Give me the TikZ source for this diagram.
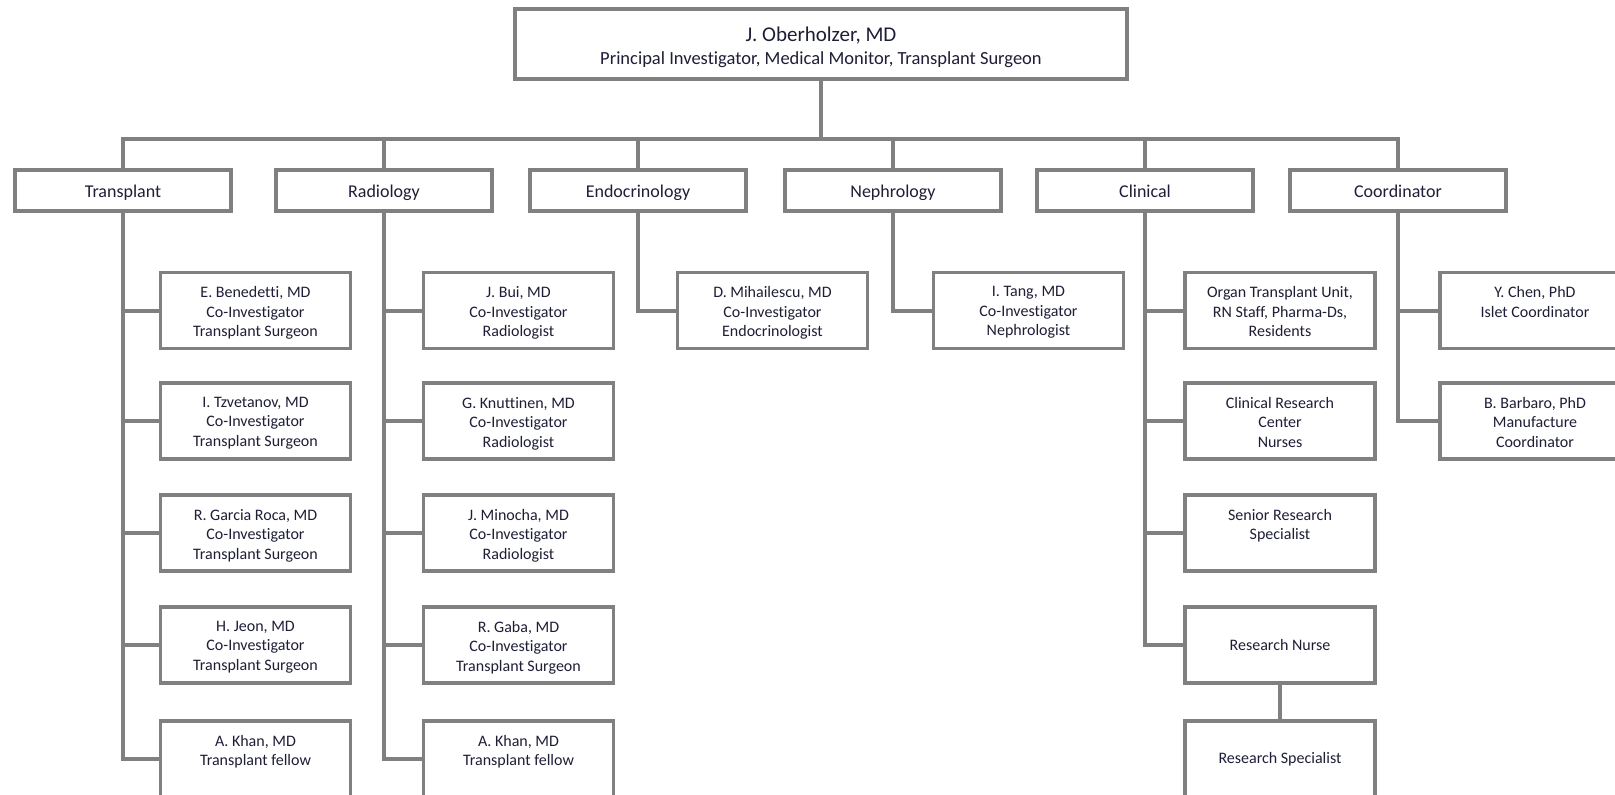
\documentclass[tikz,border=0pt]{standalone}
\usepackage{fontspec}
\setmainfont{Carlito}[Ligatures=NoCommon]
\definecolor{lnc}{RGB}{128,128,128}
\definecolor{txc}{RGB}{30,30,55}
\tikzset{
  conn/.style={draw=lnc, line width=4pt},
  bx/.style={draw=lnc, line width=3.5pt, fill=white, text=txc, inner sep=0pt,
    minimum height=76pt, minimum width=190pt, font=\fontsize{16}{19.5}\selectfont},
  dept/.style={draw=lnc, line width=3.5pt, fill=white, text=txc, inner sep=0pt,
    minimum height=41pt, minimum width=216pt, text height=13pt, text depth=0pt,
    font=\fontsize{18}{22}\selectfont},
  topbx/.style={draw=lnc, line width=3.5pt, fill=white, text=txc, inner sep=0pt,
    minimum height=70pt, minimum width=612pt,
    font=\fontsize{18.5}{22}\selectfont},
}
\newcommand{\tbx}[1]{\parbox[c][48pt][t]{185pt}{\centering #1}}
\begin{document}
\begin{tikzpicture}[x=1pt,y=-1pt]
\useasboundingbox (0,0) rectangle (1615,795);
\clip (0,0) rectangle (1615,795);
\fill[white] (0,0) rectangle (1615,795);

% top
\node[topbx] (top) at (821,44) {\raisebox{-8.5pt}[0pt][0pt]{\begin{tabular}{@{}c@{}}{\fontsize{21}{22}\selectfont J. Oberholzer, MD}\\[1pt]Principal Investigator, Medical Monitor, Transplant Surgeon\end{tabular}}};
\coordinate (bus) at (0,139);

% departments
\node[dept] (tr) at (123,190.5) {Transplant};
\node[dept] (ra) at (384,190.5) {Radiology};
\node[dept] (en) at (638,190.5) {Endocrinology};
\node[dept] (ne) at (893,190.5) {Nephrology};
\node[dept] (cl) at (1145,190.5) {Clinical};
\node[dept] (co) at (1398,190.5) {Coordinator};

% transplant children
\node[bx] (t1) at (255.5,310.5) {\tbx{E. Benedetti, MD\\Co-Investigator\\Transplant Surgeon}};
\node[bx] (t2) at (255.5,421) {\tbx{I. Tzvetanov, MD\\Co-Investigator\\Transplant Surgeon}};
\node[bx] (t3) at (255.5,533) {\tbx{R. Garcia Roca, MD\\Co-Investigator\\Transplant Surgeon}};
\node[bx] (t4) at (255.5,645) {\tbx{H. Jeon, MD\\Co-Investigator\\Transplant Surgeon}};
\node[bx] (t5) at (255.5,759) {\tbx{A. Khan, MD\\Transplant fellow}};

% radiology children
\node[bx] (r1) at (518.5,310.5) {\tbx{J. Bui, MD\\Co-Investigator\\Radiologist}};
\node[bx] (r2) at (518.5,421) {\tbx{G. Knuttinen, MD\\Co-Investigator\\Radiologist}};
\node[bx] (r3) at (518.5,533) {\tbx{J. Minocha, MD\\Co-Investigator\\Radiologist}};
\node[bx] (r4) at (518.5,645) {\tbx{R. Gaba, MD\\Co-Investigator\\Transplant Surgeon}};
\node[bx] (r5) at (518.5,759) {\tbx{A. Khan, MD\\Transplant fellow}};

% endocrinology / nephrology
\node[bx] (e1) at (772.5,310.5) {\tbx{D. Mihailescu, MD\\Co-Investigator\\Endocrinologist}};
\node[bx] (n1) at (1028.5,310.5) {\tbx{I. Tang, MD\\Co-Investigator\\Nephrologist}};

% clinical
\node[bx] (c1) at (1280,310.5) {\tbx{Organ Transplant Unit,\\RN Staff, Pharma-Ds,\\Residents}};
\node[bx] (c2) at (1280,421) {\tbx{Clinical Research\\Center\\Nurses}};
\node[bx] (c3) at (1280,533) {\tbx{Senior Research\\Specialist}};
\node[bx] (c4) at (1280,645) {Research Nurse};
\node[bx] (c5) at (1280,759) {Research Specialist};

% coordinator
\node[bx] (k1) at (1535,310.5) {\tbx{Y. Chen, PhD\\Islet Coordinator}};
\node[bx] (k2) at (1535,421) {\tbx{B. Barbaro, PhD\\Manufacture\\Coordinator}};

% connectors: top to bus
\draw[conn] (top.south) -- (top.south |- bus);
\draw[conn] (tr.north) -- (tr.north |- bus) -- (co.north |- bus) -- (co.north);
\foreach \d in {ra,en,ne,cl} \draw[conn] (\d.north) -- (\d.north |- bus);

% transplant
\draw[conn] (tr.south) |- (t5.west);
\foreach \c in {t1,t2,t3,t4} \draw[conn] (tr.south |- \c.west) -- (\c.west);
% radiology
\draw[conn] (ra.south) |- (r5.west);
\foreach \c in {r1,r2,r3,r4} \draw[conn] (ra.south |- \c.west) -- (\c.west);
% endo, neph
\draw[conn] (en.south) |- (e1.west);
\draw[conn] (ne.south) |- (n1.west);
% clinical
\draw[conn] (cl.south) |- (c4.west);
\foreach \c in {c1,c2,c3} \draw[conn] (cl.south |- \c.west) -- (\c.west);
\draw[conn] (c4.south) -- (c5.north);
% coordinator
\draw[conn] (co.south) |- (k2.west);
\draw[conn] (co.south |- k1.west) -- (k1.west);
\end{tikzpicture}
\end{document}
